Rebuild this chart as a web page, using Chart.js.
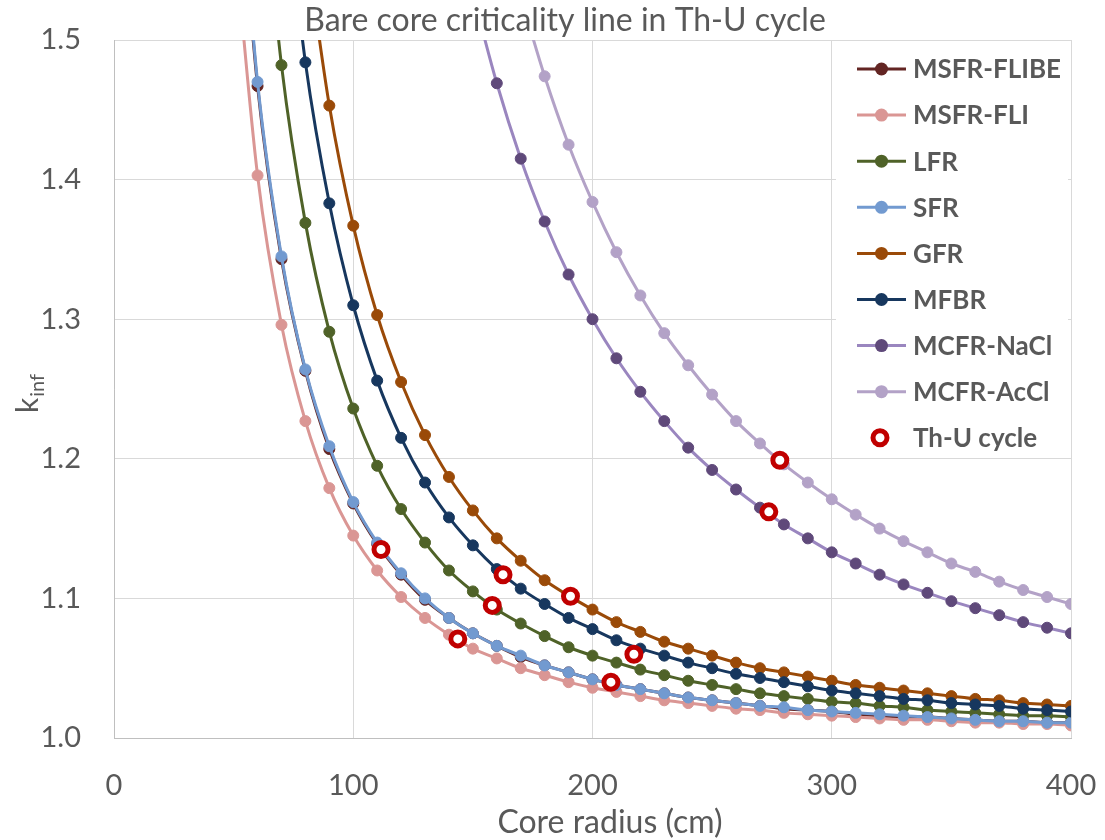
<!DOCTYPE html>
<html>
<head>
<meta charset="utf-8">
<script src="https://cdn.jsdelivr.net/npm/chart.js@4/dist/chart.umd.min.js"></script>
<style>
  html, body { margin: 0; padding: 0; background: #ffffff; }
  #wrap { width: 1105px; height: 840px; position: relative; }
</style>
</head>
<body>
<div id="wrap"><canvas id="c" width="1105" height="840"></canvas></div>
<script>
// ---------------- DATA ----------------
const chartTitle = "Bare core criticality line in Th-U cycle";
const xAxisTitle = "Core radius (cm)";
const yAxisTitleMain = "k";
const yAxisTitleSub = "inf";

const xTicks = [0, 100, 200, 300, 400];
const yTicks = [1.0, 1.1, 1.2, 1.3, 1.4, 1.5];

// core radius (cm)
const radius = [50, 60, 70, 80, 90, 100, 110, 120, 130, 140, 150, 160, 170, 180, 190, 200, 210, 220,
  230, 240, 250, 260, 270, 280, 290, 300, 310, 320, 330, 340, 350, 360, 370, 380, 390, 400];

const msfrFlibe = [1.672, 1.467, 1.343, 1.263, 1.207, 1.168, 1.139, 1.117, 1.099, 1.086, 1.075, 1.066, 1.058, 1.052,
  1.047, 1.042, 1.038, 1.035, 1.032, 1.029, 1.027, 1.025, 1.023, 1.021, 1.020, 1.019, 1.017, 1.016, 1.015, 1.015,
  1.014, 1.013, 1.012, 1.012, 1.011, 1.011];
const msfrFli = [1.580, 1.403, 1.296, 1.227, 1.179, 1.145, 1.120, 1.101, 1.086, 1.074, 1.064, 1.057, 1.050, 1.045,
  1.040, 1.036, 1.033, 1.030, 1.027, 1.025, 1.023, 1.021, 1.020, 1.018, 1.017, 1.016, 1.015, 1.014, 1.013, 1.013,
  1.012, 1.011, 1.011, 1.010, 1.010, 1.009];
const lfr = [null, 1.656, 1.482, 1.369, 1.291, 1.236, 1.195, 1.164, 1.140, 1.120, 1.105, 1.092, 1.082, 1.073,
  1.065, 1.059, 1.054, 1.049, 1.045, 1.041, 1.038, 1.035, 1.032, 1.030, 1.028, 1.026, 1.025, 1.023, 1.022, 1.020,
  1.019, 1.018, 1.017, 1.016, 1.016, 1.015];
const sfr = [1.677, 1.470, 1.345, 1.264, 1.209, 1.169, 1.140, 1.118, 1.100, 1.086, 1.075, 1.066, 1.059, 1.052,
  1.047, 1.042, 1.038, 1.035, 1.032, 1.029, 1.027, 1.025, 1.023, 1.022, 1.020, 1.019, 1.018, 1.017, 1.016, 1.015,
  1.014, 1.013, 1.012, 1.012, 1.011, 1.011];
const gfr = [null, null, null, 1.573, 1.453, 1.367, 1.303, 1.255, 1.217, 1.187, 1.163, 1.143, 1.127, 1.113,
  1.102, 1.092, 1.083, 1.076, 1.069, 1.064, 1.059, 1.054, 1.050, 1.047, 1.044, 1.041, 1.038, 1.036, 1.034, 1.032,
  1.030, 1.028, 1.027, 1.025, 1.024, 1.023];
const mfbr = [null, null, 1.633, 1.484, 1.383, 1.310, 1.256, 1.215, 1.183, 1.158, 1.138, 1.121, 1.107, 1.096,
  1.086, 1.078, 1.070, 1.064, 1.059, 1.054, 1.050, 1.046, 1.043, 1.040, 1.037, 1.034, 1.032, 1.030, 1.028, 1.027,
  1.025, 1.024, 1.023, 1.021, 1.020, 1.019];
const mcfrNaCl = [null, null, null, null, null, null, null, null, null, null, 1.533, 1.469, 1.415, 1.370,
  1.332, 1.300, 1.272, 1.248, 1.227, 1.208, 1.192, 1.178, 1.165, 1.153, 1.143, 1.133, 1.125, 1.117, 1.110, 1.104,
  1.098, 1.093, 1.088, 1.083, 1.079, 1.075];
const mcfrAcCl = [null, null, null, null, null, null, null, null, null, null, null, null, 1.531, 1.474,
  1.425, 1.384, 1.348, 1.317, 1.290, 1.267, 1.246, 1.227, 1.211, 1.196, 1.183, 1.171, 1.160, 1.150, 1.141, 1.133,
  1.125, 1.119, 1.112, 1.106, 1.101, 1.096];

// Th-U cycle operating points
const thuRadius = [111.6, 143.7, 158.1, 162.6, 190.8, 207.7, 217.3, 273.7, 278.3];
const thuK = [1.135, 1.071, 1.095, 1.117, 1.1015, 1.040, 1.060, 1.162, 1.199];

const seriesNames = ["MSFR-FLIBE", "MSFR-FLI", "LFR", "SFR", "GFR", "MFBR", "MCFR-NaCl", "MCFR-AcCl"];
const seriesValues = [msfrFlibe, msfrFli, lfr, sfr, gfr, mfbr, mcfrNaCl, mcfrAcCl];
const thuName = "Th-U cycle";

// ---------------- STYLE ----------------
const lineColors   = ["#632523", "#DA9694", "#4F6228", "#729AD0", "#9A4A08", "#17375E", "#9A86BF", "#B3A2C7"];
const markerColors = ["#632523", "#DA9694", "#4F6228", "#729AD0", "#9A4A08", "#17375E", "#5F497A", "#B3A2C7"];
const thuColor = "#C00000";
const textColor = "#595959";
const FONT = "Lato";

function toPoints(xs, ys) {
  const pts = [];
  for (let i = 0; i < xs.length; i++) {
    if (ys[i] !== null && ys[i] !== undefined) pts.push({ x: xs[i], y: ys[i] });
  }
  return pts;
}

const datasets = seriesNames.map((name, i) => ({
  label: name,
  data: toPoints(radius, seriesValues[i]),
  showLine: true,
  borderColor: lineColors[i],
  backgroundColor: markerColors[i],
  borderWidth: 3,
  pointRadius: 5.5,
  pointBorderWidth: 1,
  pointBackgroundColor: markerColors[i],
  pointBorderColor: markerColors[i],
  cubicInterpolationMode: 'monotone',
  order: 20 - i
}));
datasets.push({
  label: thuName,
  data: toPoints(thuRadius, thuK),
  showLine: false,
  borderColor: thuColor,
  backgroundColor: "#ffffff",
  pointRadius: 7,
  pointBorderWidth: 5,
  pointBackgroundColor: "#ffffff",
  pointBorderColor: thuColor,
  order: 0
});

// ---------------- PLUGINS (texts & legend) ----------------
const textPlugin = {
  id: 'texts',
  afterDraw(chart) {
    const ctx = chart.ctx;
    ctx.save();
    ctx.fillStyle = textColor;
    // Title
    ctx.font = `32px ${FONT}`;
    ctx.textAlign = 'center';
    ctx.textBaseline = 'alphabetic';
    ctx.fillText(chartTitle, 565, 31);
    // X axis title
    ctx.fillText(xAxisTitle, 610, 833);
    // Y axis title with subscript
    ctx.save();
    ctx.translate(38, 413);
    ctx.rotate(-Math.PI / 2);
    ctx.textAlign = 'left';
    ctx.font = `30px ${FONT}`;
    ctx.fillText(yAxisTitleMain, 0, 0);
    const kw = ctx.measureText(yAxisTitleMain).width;
    ctx.font = `20px ${FONT}`;
    ctx.fillText(yAxisTitleSub, kw + 1, 6);
    ctx.restore();

    // Legend (inside plot area, top-right)
    const lx0 = 836, ly0 = 42, lx1 = 1068, ly1 = 456;
    ctx.fillStyle = '#ffffff';
    ctx.fillRect(lx0, ly0, lx1 - lx0, ly1 - ly0);
    const rowY0 = 69, rowStep = 46.1;
    const items = chart.data.datasets;
    ctx.font = `bold 26px ${FONT}`;
    ctx.textAlign = 'left';
    ctx.textBaseline = 'middle';
    items.forEach((ds, i) => {
      const y = rowY0 + i * rowStep;
      if (ds.showLine) {
        ctx.strokeStyle = ds.borderColor;
        ctx.lineWidth = 3;
        ctx.beginPath();
        ctx.moveTo(857, y);
        ctx.lineTo(906, y);
        ctx.stroke();
        ctx.fillStyle = ds.pointBackgroundColor;
        ctx.beginPath();
        ctx.arc(881.5, y, 6.5, 0, Math.PI * 2);
        ctx.fill();
      } else {
        ctx.strokeStyle = ds.pointBorderColor;
        ctx.lineWidth = ds.pointBorderWidth;
        ctx.fillStyle = ds.pointBackgroundColor;
        ctx.beginPath();
        ctx.arc(880, y, ds.pointRadius, 0, Math.PI * 2);
        ctx.fill();
        ctx.stroke();
      }
      ctx.fillStyle = textColor;
      ctx.fillText(ds.label, 913, y + 1);
    });
    ctx.restore();
  }
};

function zeroPad(scale) {
  scale.paddingLeft = 0;
  scale.paddingRight = 0;
  scale.paddingTop = 0;
  scale.paddingBottom = 0;
}

// ---------------- CHART ----------------
new Chart(document.getElementById('c'), {
  type: 'scatter',
  data: { datasets },
  options: {
    responsive: false,
    animation: false,
    events: [],
    layout: { padding: { top: 40, right: 34, left: 0, bottom: 0 } },
    plugins: {
      legend: { display: false },
      title: { display: false },
      tooltip: { enabled: false }
    },
    scales: {
      x: {
        type: 'linear',
        min: xTicks[0],
        max: xTicks[xTicks.length - 1],
        afterBuildTicks(scale) { scale.ticks = xTicks.map(v => ({ value: v })); },
        afterFit(scale) { scale.height = 102; zeroPad(scale); },
        grid: { color: '#d9d9d9', lineWidth: 1, drawTicks: false },
        border: { color: '#bfbfbf', width: 1 },
        ticks: {
          color: textColor,
          font: { family: FONT, size: 29 },
          padding: 30,
          maxRotation: 0,
          callback: v => String(v)
        }
      },
      y: {
        type: 'linear',
        min: yTicks[0],
        max: yTicks[yTicks.length - 1],
        afterBuildTicks(scale) { scale.ticks = yTicks.map(v => ({ value: v })); },
        afterFit(scale) { scale.width = 114; zeroPad(scale); },
        grid: { color: '#d9d9d9', lineWidth: 1, drawTicks: false },
        border: { color: '#bfbfbf', width: 1 },
        ticks: {
          color: textColor,
          font: { family: FONT, size: 29 },
          padding: 33,
          callback: v => Number(v).toFixed(1)
        }
      }
    }
  },
  plugins: [textPlugin]
});
</script>
</body>
</html>
